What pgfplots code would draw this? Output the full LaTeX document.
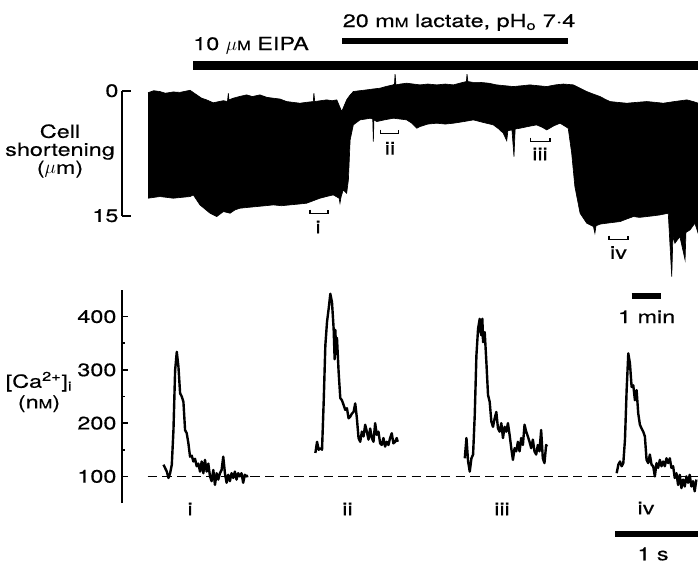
\documentclass[border=0pt]{standalone}
\usepackage{fontspec}
\setmainfont{TeX Gyre Heros}[FakeStretch=1.3, FakeBold=0.4]
\usepackage{pgfplots}
\pgfplotsset{compat=1.18}
\newcommand{\smM}{{\fontsize{9.5}{9.5}\selectfont M}}
\begin{document}
\begin{tikzpicture}
\fontsize{13.5}{13.5}\selectfont
\path[use as bounding box] (0,0) rectangle (523.5pt,-423pt);

% ---------------- top panel: cell shortening (x in min, y in um)
% envelope of the contraction record: upper edge left to right, lower edge right to left
\begin{axis}[at={(91.5pt,-161.78pt)}, anchor=south west,
  width=432pt, height=93.75pt, scale only axis,
  xmin=-0.897, xmax=18.966, ymin=0, ymax=15, y dir=reverse, clip=false,
  axis x line=none, axis y line*=left,
  ytick={0,15}, tick align=inside, major tick length=6.75pt,
  axis line style={line width=1.3pt,black},
  every tick/.style={line width=1.3pt,black},
  yticklabel style={font=\fontsize{13.5}{13.5}\selectfont, inner sep=2.5pt},
  /pgf/number format/assume math mode=true]
\addplot[fill=black, draw=black, line width=0.5pt] coordinates {
(0.00,0.24) (0.20,0.0) (0.41,0.1) (0.60,0.3) (0.87,0.15) (1.10,0.2) (1.45,-0.05)
(1.68,0.5) (1.85,0.9) (2.02,1.1) (2.25,1.45) (2.45,1.3) (2.60,1.2) (2.74,1.3)
(2.77,0.3) (2.79,1.1) (2.94,0.9) (3.15,0.7) (3.40,0.5) (3.60,0.7) (3.86,0.5)
(4.10,0.8) (4.32,0.9) (4.55,1.0) (4.78,1.3) (5.00,1.4) (5.24,1.5) (5.45,1.4)
(5.70,1.3) (5.72,0.3) (5.75,1.3) (5.95,1.2) (6.16,1.1) (6.35,1.2) (6.51,1.1)
(6.68,2.5) (6.85,1.1) (6.95,0.6) (7.08,0.1) (7.30,0.0) (7.54,-0.1) (7.75,-0.2)
(8.00,-0.3) (8.20,-0.5) (8.45,-0.7) (8.50,-0.8) (8.52,-2.0) (8.55,-0.7)
(8.70,-0.8) (8.92,-0.9) (9.15,-0.8) (9.38,-0.7) (9.65,-0.8) (9.96,-0.7)
(10.25,-0.8) (10.53,-0.7) (10.75,-0.9) (10.98,-1.1) (11.00,-2.0) (11.03,-1.1)
(11.20,-1.0) (11.45,-1.0) (11.75,-0.9) (12.02,-0.7) (12.30,-0.6) (12.60,-0.5)
(12.90,-0.6) (13.17,-0.7) (13.45,-0.6) (13.75,-0.5) (14.05,-0.7) (14.32,-0.8)
(14.67,-0.7) (14.90,-0.3) (15.13,0.1) (15.35,0.4) (15.59,0.7) (15.75,1.0)
(15.93,1.3) (16.20,1.4) (16.51,1.5) (16.85,1.4) (17.20,1.3) (17.50,1.4)
(17.77,1.5) (18.15,1.3) (18.58,1.1) (18.80,1.3) (18.97,1.5)
(18.97,17.1) (18.86,15.9) (18.69,16.7) (18.55,17.0) (18.52,20.3) (18.34,17.5)
(18.17,18.3) (18.10,17.5) (18.06,22.3) (17.94,14.7) (17.66,14.9) (17.45,15.0)
(17.20,15.1) (16.95,15.2) (16.74,15.1) (16.50,15.4) (16.28,15.7) (16.05,15.8)
(15.82,15.9) (15.60,16.0) (15.45,16.2) (15.41,17.1) (15.36,16.3) (15.13,15.9)
(14.90,14.7) (14.72,11.5) (14.61,7.5) (14.49,4.5) (14.21,3.9) (14.00,4.2)
(13.75,4.7) (13.60,4.4) (13.40,4.1) (13.10,4.3) (12.83,4.5) (12.66,4.6)
(12.62,7.9) (12.55,4.7) (12.41,4.8) (12.37,6.0) (12.25,5.1) (12.10,4.6)
(11.91,4.1) (11.55,3.8) (11.22,3.5) (10.90,3.7) (10.53,3.9) (10.25,4.0)
(9.96,3.9) (9.65,4.0) (9.38,4.3) (9.27,4.5) (9.10,3.9) (8.92,3.5) (8.70,3.4)
(8.46,3.3) (8.15,3.5) (7.89,3.7) (7.79,3.5) (7.77,6.1) (7.75,3.4) (7.66,3.3)
(7.50,3.4) (7.31,3.5) (7.08,4.1) (6.97,5.9) (6.91,10.7) (6.85,12.3) (6.73,11.9)
(6.66,12.7) (6.62,13.5) (6.59,12.9) (6.39,12.5) (6.15,12.7) (5.93,12.9)
(5.70,13.2) (5.47,13.5) (5.20,13.6) (4.90,13.7) (4.60,13.8) (4.32,13.7)
(4.05,13.8) (3.75,13.9) (3.45,14.0) (3.17,14.1) (3.00,14.3) (2.83,14.7)
(2.60,14.5) (2.37,15.1) (2.14,14.7) (2.00,14.3) (1.79,13.7) (1.56,12.5)
(1.45,12.7) (1.15,12.8) (0.87,12.9) (0.65,12.8) (0.41,12.7) (0.20,12.8) (0.00,12.9)};
\end{axis}

% ---------------- bottom panel: [Ca2+]i (x in s, y in nM)
\begin{axis}[at={(91.5pt,-377.25pt)}, anchor=south west,
  width=432pt, height=159.75pt, scale only axis,
  xmin=0, xmax=6.94, ymin=50, ymax=450, clip=false,
  axis x line=none, axis y line*=left,
  ytick={100,200,300,400}, minor ytick={150,250,350},
  tick align=inside, major tick length=4.2pt, minor tick length=2.4pt,
  axis line style={line width=1.2pt,black},
  every tick/.style={line width=1.2pt,black},
  yticklabel style={font=\fontsize{13.5}{13.5}\selectfont, inner sep=4pt},
  /pgf/number format/assume math mode=true]
\addplot[black, line width=1pt, dash pattern=on 7pt off 4pt] coordinates {(0.31,100) (6.94,100)};
% transient i
\addplot[black, line width=1.8pt, line join=round] coordinates {
(0.500,122) (0.540,109) (0.560,97) (0.580,106) (0.600,122) (0.620,187) (0.640,299)
(0.660,334) (0.680,306) (0.700,256) (0.720,250) (0.740,240) (0.760,187) (0.780,181)
(0.800,162) (0.820,137) (0.840,139) (0.860,128) (0.880,133) (0.900,119) (0.920,124)
(0.940,109) (0.960,128) (0.980,106) (1.000,131) (1.020,109) (1.040,124) (1.060,100)
(1.080,91) (1.100,112) (1.120,84) (1.140,106) (1.160,94) (1.180,106) (1.200,112)
(1.220,137) (1.240,106) (1.260,88) (1.280,103) (1.300,91) (1.320,106) (1.340,97)
(1.360,109) (1.380,94) (1.400,106) (1.420,100) (1.440,106) (1.460,88) (1.480,103)
(1.500,100) (1.520,101)};
% transient ii
\addplot[black, line width=1.8pt, line join=round] coordinates {
(2.330,144) (2.350,165) (2.370,150) (2.390,153) (2.410,150) (2.430,240) (2.450,346)
(2.470,390) (2.490,415) (2.510,443) (2.530,427) (2.550,377) (2.562,320) (2.570,375)
(2.582,330) (2.590,360) (2.610,296) (2.630,247) (2.650,243) (2.670,234) (2.690,225)
(2.710,228) (2.730,209) (2.750,212) (2.770,218) (2.790,221) (2.810,237) (2.830,209)
(2.850,172) (2.870,165) (2.890,184) (2.910,175) (2.930,197) (2.950,184) (2.970,169)
(2.990,190) (3.010,172) (3.030,165) (3.050,200) (3.070,178) (3.090,184) (3.110,162)
(3.130,159) (3.150,172) (3.170,156) (3.190,165) (3.210,159) (3.230,172) (3.250,181)
(3.270,162) (3.290,165) (3.310,172) (3.322,165)};
% transient iii
\addplot[black, line width=1.8pt, line join=round] coordinates {
(4.130,134) (4.150,172) (4.170,128) (4.190,109) (4.210,134) (4.230,141) (4.250,215)
(4.270,327) (4.290,377) (4.310,396) (4.322,370) (4.330,365) (4.342,396) (4.350,352)
(4.370,371) (4.390,315) (4.410,253) (4.430,240) (4.450,203) (4.470,193) (4.490,209)
(4.510,221) (4.530,190) (4.550,184) (4.570,200) (4.590,172) (4.610,193) (4.630,184)
(4.650,200) (4.670,178) (4.690,153) (4.710,131) (4.730,153) (4.750,147) (4.770,165)
(4.790,147) (4.810,172) (4.830,159) (4.850,197) (4.870,184) (4.890,175) (4.910,165)
(4.930,153) (4.950,169) (4.970,147) (4.990,141) (5.010,159) (5.030,147) (5.050,187)
(5.070,134) (5.090,125) (5.110,159) (5.122,156)};
% transient iv
\addplot[black, line width=1.8pt, line join=round] coordinates {
(5.960,106) (5.980,122) (6.000,128) (6.020,119) (6.040,125) (6.060,169) (6.080,262)
(6.100,331) (6.120,312) (6.140,268) (6.160,271) (6.180,243) (6.200,262) (6.220,218)
(6.240,197) (6.260,190) (6.280,184) (6.300,175) (6.320,131) (6.340,125) (6.360,141)
(6.380,122) (6.400,119) (6.420,100) (6.440,125) (6.460,116) (6.480,131) (6.500,119)
(6.520,128) (6.540,119) (6.560,134) (6.580,125) (6.600,134) (6.620,116) (6.640,119)
(6.660,97) (6.680,106) (6.700,84) (6.720,103) (6.740,78) (6.760,94) (6.780,81)
(6.800,100) (6.820,88) (6.840,103) (6.860,81) (6.880,91) (6.900,72) (6.920,94)};
\end{axis}

% ---------------- annotations (pixel coordinates of the figure)
\begin{scope}[x=0.75pt, y=-0.75pt]
\node[anchor=base west, inner sep=0] at (342.5,27) {20 m\smM\ lactate, pH\textsubscript{o} 7·4};
\draw[line width=5pt] (342,41) -- (568,41);
\node[anchor=base west, inner sep=0] at (193,50) {10 $\mu$\smM\ EIPA};
\draw[line width=6.5pt] (193,65.3) -- (698,65.3);

\node[align=center, inner sep=0] at (60,151) {Cell\\shortening\\($\mu$m)};
\node[align=center, inner sep=0] at (39,392) {[Ca\textsuperscript{2+}]\textsubscript{i}\\[2pt](n\smM)};

\draw[line width=1pt] (310,209.5) -- (310,213.5) -- (328,213.5) -- (328,209.5);
\node at (318,227) {i};
\draw[line width=1pt] (380.7,129.5) -- (380.7,133.5) -- (398.7,133.5) -- (398.7,129.5);
\node at (390,148.3) {ii};
\draw[line width=1pt] (530.7,137.5) -- (530.7,141.5) -- (550,141.5) -- (550,137.5);
\node at (540,154) {iii};
\draw[line width=1pt] (609,235.5) -- (609,239.5) -- (628,239.5) -- (628,235.5);
\node at (618.5,252.5) {iv};

\node at (190,509) {i};
\node at (347.5,509) {ii};
\node at (502,509) {iii};
\node at (646,508) {iv};

\draw[line width=4.3pt] (631.7,296) -- (660.7,296);
\node at (646.7,316.7) {1 min};
\draw[line width=4.5pt] (615,533.7) -- (698,533.7);
\node at (653,554) {1 s};
\end{scope}
\end{tikzpicture}
\end{document}
